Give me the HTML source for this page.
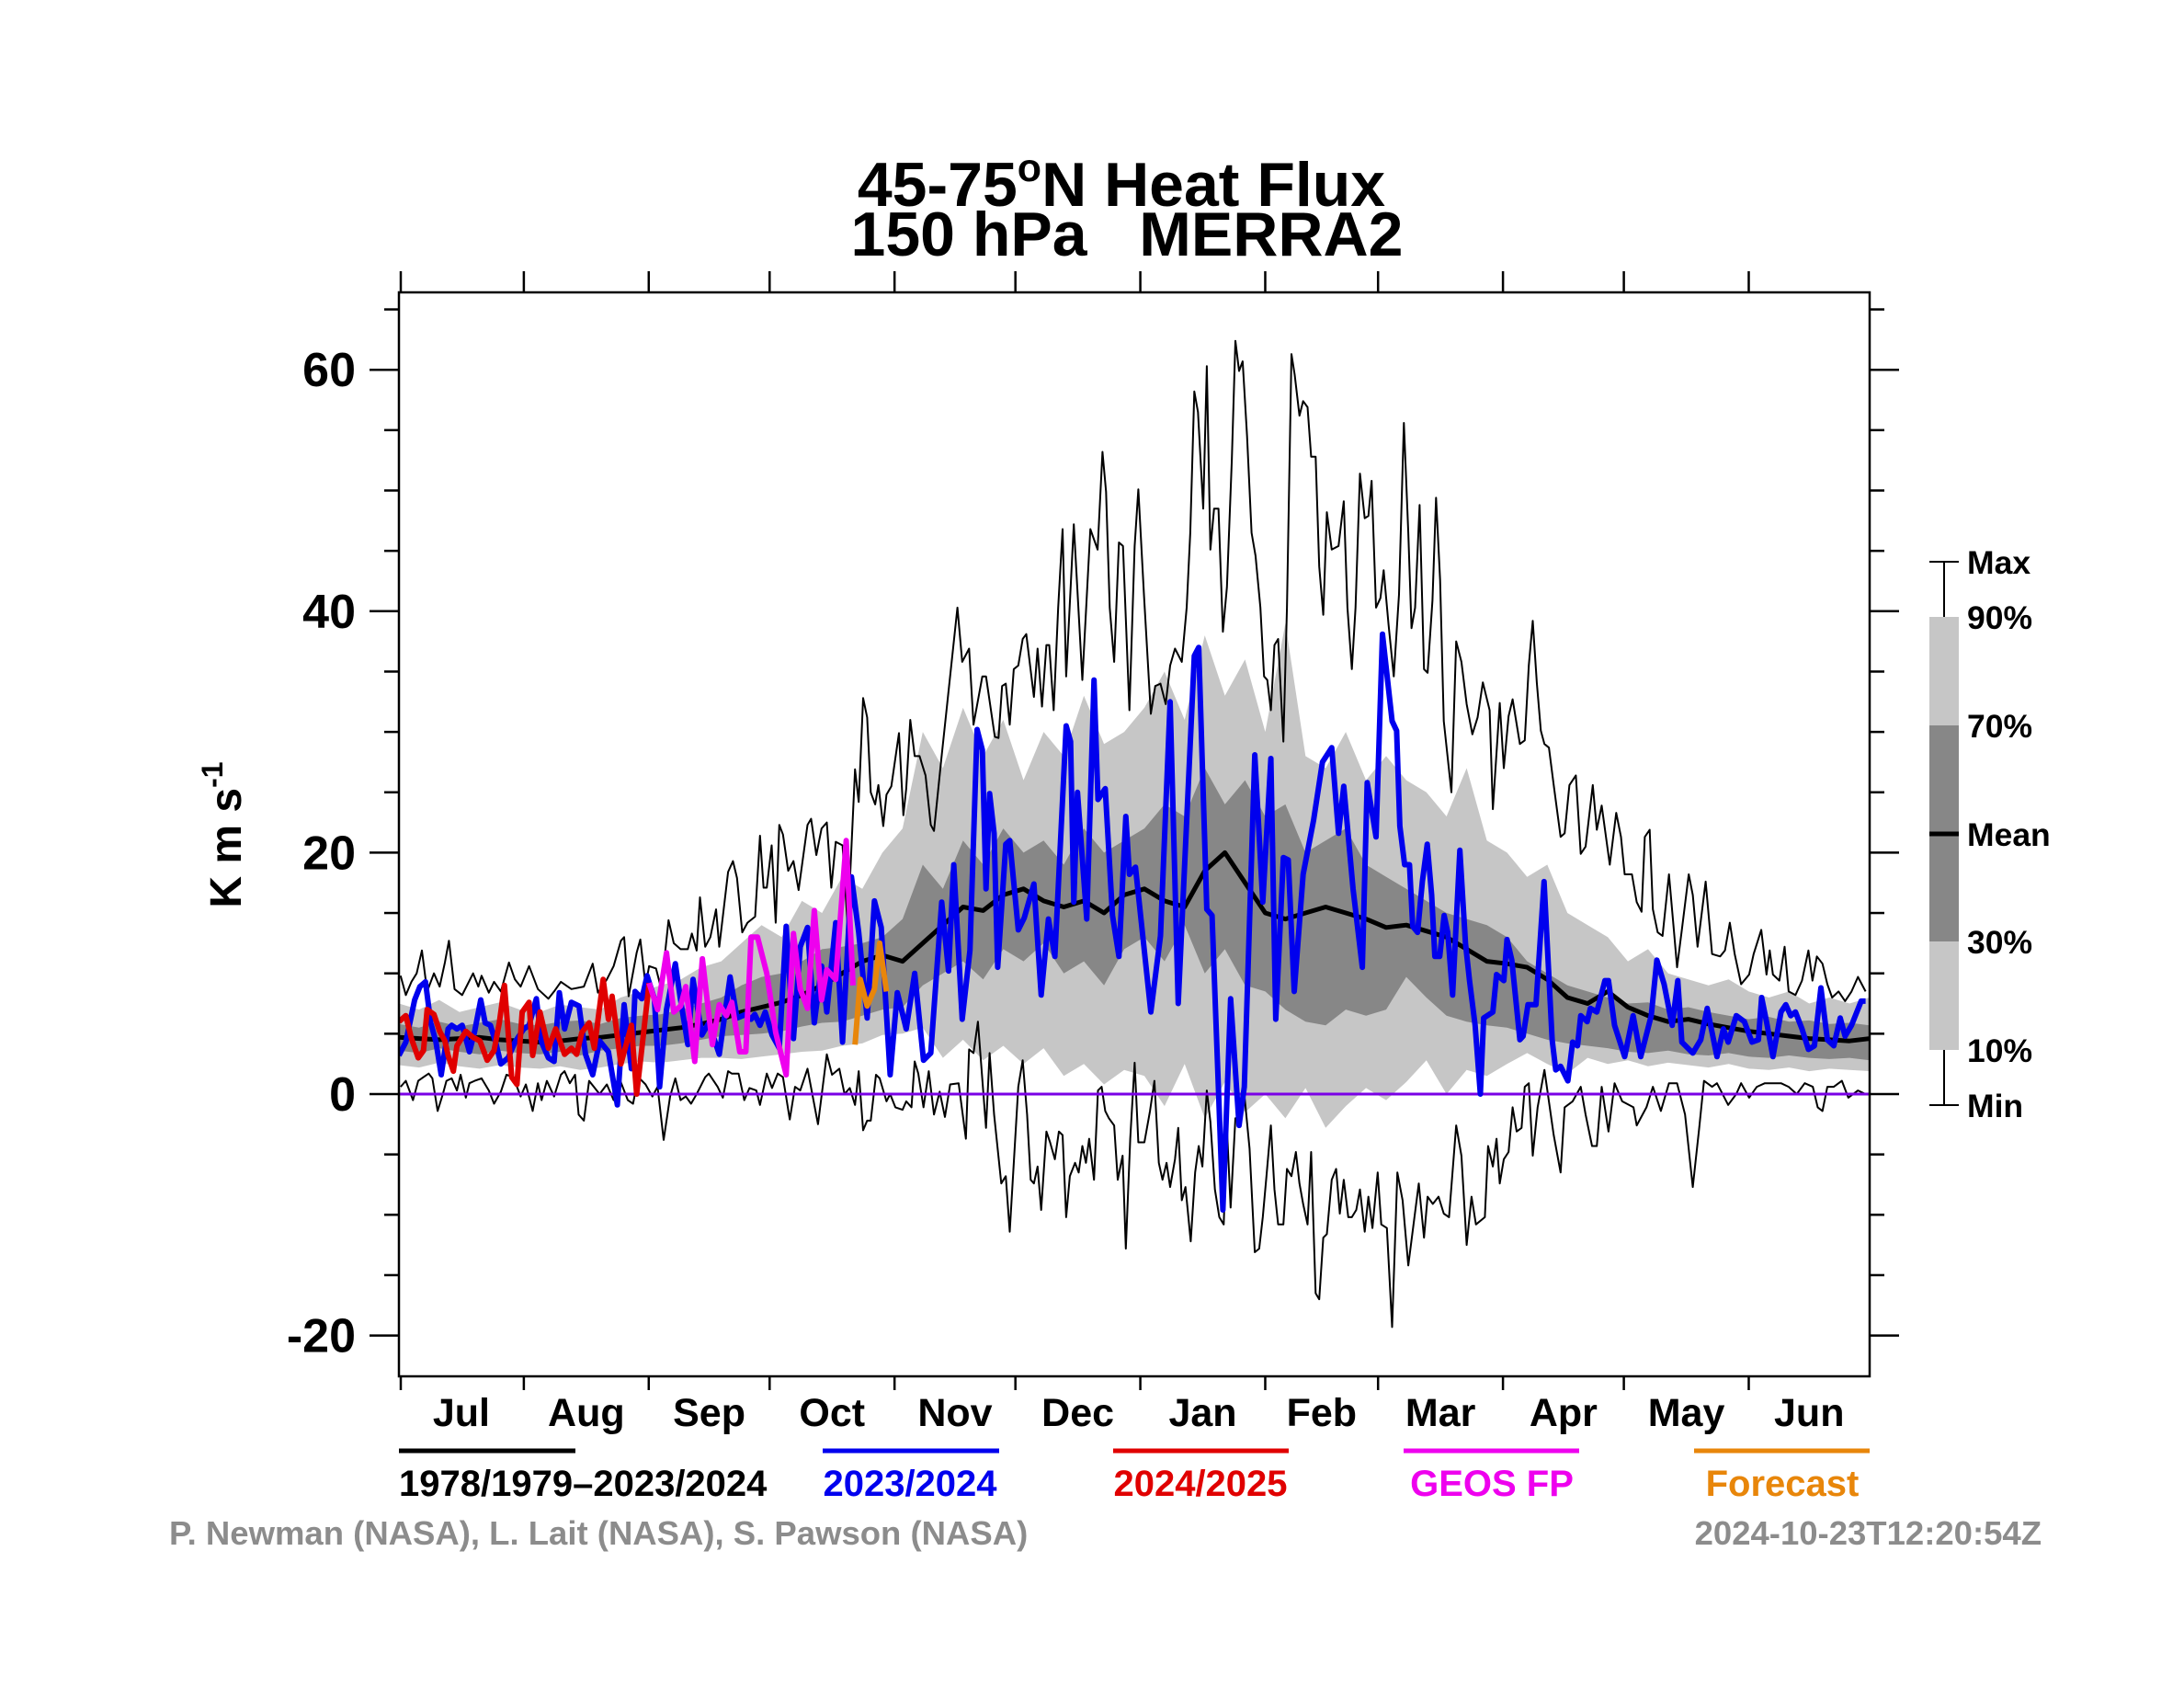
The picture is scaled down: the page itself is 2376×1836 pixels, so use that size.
<!DOCTYPE html>
<html><head><meta charset="utf-8"><title>45-75N Heat Flux 150 hPa MERRA2</title>
<style>
html,body{margin:0;padding:0;background:#fff;}
svg{display:block;font-family:"Liberation Sans",Arial,sans-serif;font-weight:bold;}
</style></head>
<body>
<svg id="chart" xmlns="http://www.w3.org/2000/svg" width="2376" height="1836" viewBox="0 0 2376 1836">
<rect x="0" y="0" width="2376" height="1836" fill="#fff"/>
<text x="1220" y="224" font-size="68" text-anchor="middle">45-75<tspan font-size="43" dy="-27">o</tspan><tspan dy="27">N Heat Flux</tspan></text>
<text x="1226" y="278" font-size="68" text-anchor="middle" xml:space="preserve">150 hPa   MERRA2</text>
<g id="plot"></g>
<g id="axes"></g>
<text transform="translate(262,908) rotate(-90)" font-size="48" text-anchor="middle">K m s<tspan font-size="32" dy="-20">-1</tspan></text>

<g>
<line x1="2115" y1="611" x2="2115" y2="1202" stroke="#000" stroke-width="2"/>
<line x1="2099" y1="611" x2="2131" y2="611" stroke="#000" stroke-width="2"/>
<line x1="2099" y1="1202" x2="2131" y2="1202" stroke="#000" stroke-width="2"/>
<rect x="2099" y="671" width="32" height="118" fill="#c6c6c6"/>
<rect x="2099" y="789" width="32" height="235" fill="#878787"/>
<rect x="2099" y="1024" width="32" height="118" fill="#c6c6c6"/>
<line x1="2099" y1="907" x2="2131" y2="907" stroke="#000" stroke-width="5"/>
<g font-size="35.5">
<text x="2140" y="624">Max</text>
<text x="2140" y="684">90%</text>
<text x="2140" y="802">70%</text>
<text x="2140" y="920">Mean</text>
<text x="2140" y="1037">30%</text>
<text x="2140" y="1155">10%</text>
<text x="2140" y="1215">Min</text>
</g></g>

<g font-size="40">
<line x1="434" y1="1578" x2="626" y2="1578" stroke="#000" stroke-width="5"/>
<text x="434" y="1627" fill="#000">1978/1979–2023/2024</text>
<line x1="895" y1="1578" x2="1087" y2="1578" stroke="#0000ee" stroke-width="5"/>
<text x="990" y="1627" fill="#0000ee" text-anchor="middle">2023/2024</text>
<line x1="1211" y1="1578" x2="1402" y2="1578" stroke="#e00000" stroke-width="5"/>
<text x="1306" y="1627" fill="#e00000" text-anchor="middle">2024/2025</text>
<line x1="1527" y1="1578" x2="1718" y2="1578" stroke="#ee00ee" stroke-width="5"/>
<text x="1623" y="1627" fill="#ee00ee" text-anchor="middle">GEOS FP</text>
<line x1="1843" y1="1578" x2="2034" y2="1578" stroke="#e8860a" stroke-width="5"/>
<text x="1939" y="1627" fill="#e8860a" text-anchor="middle">Forecast</text>
</g>
<text x="184" y="1680" font-size="36.5" fill="#8c8c8c">P. Newman (NASA), L. Lait (NASA), S. Pawson (NASA)</text>
<text x="2221" y="1680" font-size="36.5" fill="#8c8c8c" text-anchor="end">2024-10-23T12:20:54Z</text>
</svg>
<script>
const monthLabels = ["Jul","Aug","Sep","Oct","Nov","Dec","Jan","Feb","Mar","Apr","May","Jun"];
const monthStartDays = [0,31,62,92,123,153,184,215,243,274,304,335,365];
const yTickLabels = [60,40,20,0,-20];
const yMinorTicks = [65,55,50,45,35,30,25,15,10,5,-5,-10,-15,-25];

const bandDays = [0,5,10,15,20,25,30,35,40,45,50,55,60,65,70,75,80,85,90,95,100,105,110,115,120,125,130,135,140,145,150,155,160,165,170,175,180,185,190,195,200,205,210,215,220,225,230,235,240,245,250,255,260,265,270,275,280,285,290,295,300,305,310,315,320,325,330,335,340,345,350,355,360,365];
const p90Vals = [7.5,7,7.8,6.8,7.2,7.6,7, 6.8,7.4,7.2,7,8,8.5, 9,9.5,10.5,11,12.5,14, 13,16,15,18,17,20, 22,30,27,32,28,31, 26,30,28,33,29,30, 32,35,31,38,33,36, 30,39,28,27,30,26, 28,26,25,23,27,21, 20,18,19,15,14,13, 11,12,10,9.5,9,9.5, 8.5,8,8.5,7.5,8,7.5,8];
const p70Vals = [5.8,5.5,6,5.6,5.9,6.2,5.8, 5.7,6,6.1,5.8,6.3,6.5, 6.6,7,7.5,8,9,9.7, 10,11,12,12.2,12.5,13, 14.5,19,17,21,19,22, 20,21,19,22,20,21, 22,24,23,27,24,26, 23,24,20,21,22,19, 18,17,16,15,14.5,14, 13,11,10,9,8.5,8, 7.5,7.6,7,7.2,6.8,6.5, 6.2,6.4,6,6.1,5.8,5.9,5.7];
const p30Vals = [3.6,3.4,3.8,3.5,3.3,3.6,3.4, 3.3,3.5,3.2,3.6,3.8,4, 4,4.2,4.5,4.8,4.9,5, 5.2,5.6,5.9,6,6.5,7, 7.2,9,10,11,9.5,12, 11,12.5,10,11,9,12, 13,11,14,10,12,9, 8.5,7,6,5.7,7,6.5, 7,9.7,8,6.5,6,5.7, 5.5,5,4.5,4.2,4,3.8, 3.5,3.4,3.6,3.3,3.2,3.4, 3.1,3,3.2,3,2.9,3,2.8];
const p10Vals = [2.4,2.2,2.6,2.3,2.1,2.4,2.2, 2.1,2.3,2,2.2,2.5,2.7, 2.6,2.8,3,3,2.9,3.1, 3.3,3.5,3.6,4,4.2,4.9, 5,5.5,3,4.5,2.8,4, 2.5,3.8,1.5,2.5,0.8,2, 1.5,-1,2.5,-2,1,-1.5, 0,-2,0.5,-2.8,-1,0.5, -0.5,1,2.8,0,2,1.5, 2.5,3.4,2.5,1.7,3,2.5, 2.8,2.3,2.6,2.4,2.2,2.5, 2.1,2,2.2,1.9,2.1,2,1.9];
const meanVals = [4.7,4.6,4.5,4.6,4.7,4.5,4.4, 4.3,4.4,4.6,4.7,4.9,5.1, 5.3,5.5,5.8,6.2,6.8,7.2, 7.6,8.2,9,10,11,11.5, 11,12.5,14,15.5,15.2,16.5, 17,16,15.5,16,15,16.5, 17,16,15.5,18.5,20,17.5, 15,14.5,15,15.5,15,14.5, 13.8,14,13.5,13,12,11, 10.8,10.5,9.5,8,7.5,8.5, 7.2,6.5,6,6.2,5.8,5.5, 5.2,5,4.8,4.6,4.5,4.4,4.6];

const maxSeries = [[0.4,9.8],[1.7,8.2],[3.1,9.3],[4.4,10],[5.7,11.9],[7,8.5],[8.7,10],[10.1,8.9],[11.4,10.9],[12.4,12.7],[13.8,8.7],[15.7,8.2],[18.4,10],[19.7,8.9],[20.5,9.8],[22.3,8.4],[23.6,9.3],[25.3,8.5],[27.3,10.9],[28.8,9.5],[30.2,8.9],[32.3,10.6],[34.5,8.7],[37.1,7.9],[38.5,8.5],[40.2,9.3],[42.8,8.7],[45.9,8.9],[48.1,10.8],[49.4,8.4],[51.6,9.5],[53.3,10.6],[55.1,12.7],[55.9,13],[57,8.1],[59,11.7],[59.9,12.8],[61.2,9],[62.1,10.6],[63.8,10.4],[65.1,8.7],[66.9,14.4],[68.2,12.5],[69.9,12],[71.7,12],[72.7,13.3],[73.9,11.9],[74.7,16.3],[76,12.2],[77.3,13],[78.7,15.3],[79.5,12.2],[81.7,18.4],[82.9,19.3],[83.9,17.9],[85.2,13.4],[86.5,14.2],[88.4,14.7],[89.6,21.4],[90.5,17.1],[91.3,17.1],[92.5,20.6],[93.5,14.2],[94.4,22.3],[95.3,21.5],[96.6,18.5],[97.9,19.3],[99.2,16.9],[101.4,22.3],[102.3,22.8],[103.6,19.8],[104.9,22],[106.2,22.5],[107.3,17.1],[108.4,20.9],[110.1,20.6],[111.4,13.8],[113.2,26.9],[114.1,24.2],[115.2,32.8],[116.2,31.2],[117.1,25],[118.2,24],[119,25.6],[120.2,22.2],[121,24.8],[122.2,25.5],[124.1,29.9],[125.2,23.1],[125.9,25.3],[126.9,31],[128,28],[129.2,28],[130.7,26.4],[132,22.3],[132.8,21.8],[134.6,27.7],[138.6,40.3],[139.8,35.8],[141.5,36.9],[142.6,30.6],[144.8,34.6],[145.7,34.6],[147.9,29.6],[148.8,29.5],[149.7,33.8],[150.6,34],[151.6,30.6],[152.6,35.2],[153.7,35.5],[154.8,37.7],[155.7,38.1],[157.6,32.9],[158.5,36.9],[159.6,32.1],[160.7,37.2],[161.4,37.2],[162.5,31.8],[163.6,40.3],[164.7,46.8],[165.6,34.6],[167.5,47.2],[169.6,34.3],[171.6,46.8],[173.4,45.1],[174.6,53.2],[175.5,49.9],[176.4,40.3],[177.5,35.8],[178.7,45.7],[179.7,45.4],[181.3,31.8],[182.6,45.4],[183.5,50.1],[184.9,41.4],[186.6,31.5],[187.7,33.8],[189,34],[190.3,32.3],[191.4,35.5],[192.6,36.9],[194.3,35.8],[195.5,40.3],[196.4,46.5],[197.4,58.2],[198.3,56.5],[199.6,48.5],[200.5,60.3],[201.4,45.1],[202.3,48.5],[203.4,48.5],[204.5,38.3],[205.5,42],[206.7,52.5],[207.6,62.4],[208.5,59.9],[209.4,60.7],[210.5,54.5],[211.6,46.5],[212.6,44.6],[213.8,40.3],[214.7,34.6],[215.5,34.3],[216.4,31.8],[217.3,37.2],[218.2,37.7],[219.5,29.2],[220.4,40.3],[221.5,61.3],[222.3,59.6],[223.5,56.2],[224.4,57.4],[225.5,56.9],[226.4,52.8],[227.5,52.8],[228.4,43.7],[229.4,39.7],[230.3,48.2],[231.5,45.1],[233.2,45.4],[234.5,49.1],[235.4,40.3],[236.5,35.2],[237.4,40.3],[238.5,51.4],[239.7,47.7],[240.6,47.9],[241.4,50.8],[242.5,40.3],[243.6,41.1],[244.4,43.4],[245.6,38.9],[246.9,34.6],[248.2,41.4],[249.4,55.6],[250.5,46.5],[251.3,38.6],[252.2,40.3],[253.3,48.8],[254.4,35.2],[255.3,34.9],[256.5,40.9],[257.4,49.4],[258.4,42.6],[259.3,30.9],[261.2,25],[262.4,37.5],[263.7,35.8],[265,32.3],[266.4,29.8],[267.7,31.2],[269,34.1],[270.7,31.8],[271.5,23.6],[273.2,32.4],[274.2,27],[275.4,31.3],[276.4,32.7],[278.2,29],[279.4,29.3],[280.4,35.5],[281.4,39.2],[282.4,34.1],[283.4,30.1],[284.3,29],[285.4,28.7],[286.6,25.6],[288.3,21.3],[289.3,21.6],[290.5,25.6],[292.1,26.4],[293.3,19.9],[294.5,20.5],[296.3,25.6],[297.3,21.9],[298.5,23.9],[300.5,19],[302.1,23.3],[303.3,21.3],[304.2,18.2],[306,18.2],[307.2,15.9],[308.4,15.1],[309.2,21.3],[310.4,21.9],[311.2,15.3],[312.4,13.4],[313.6,13.1],[315.2,18.2],[316.4,13.6],[317.2,10.5],[318.4,13.6],[320.1,18.2],[321.1,16.5],[322.3,12.2],[324.3,17.6],[325.9,11.6],[327.9,11.4],[329.1,11.9],[330.3,14.2],[331.5,11.6],[333.1,9.1],[335.1,9.9],[336.2,11.6],[338.1,13.6],[339.4,9.9],[340.2,11.9],[341,9.9],[342.6,9.4],[343.9,12.2],[344.9,8.5],[346.6,8.2],[348.2,9.4],[349.8,11.9],[350.8,9.4],[351.9,11.4],[353.3,10.8],[354.5,9.1],[355.7,8],[357.3,8.5],[358.9,7.7],[360.5,8.5],[362.1,9.7],[364,8.5]];

const minSeries = [[0.4,0.6],[1.7,1.1],[3.5,-0.5],[4.8,1.1],[6.1,1.4],[7.4,1.7],[8.3,1.3],[9.6,-1.4],[10.9,0],[11.8,1.1],[13.1,1.3],[14.4,0.3],[15.3,1.6],[16.6,-0.3],[17.5,0.9],[18.8,1.1],[20.5,1.3],[22.3,0.3],[23.6,-0.8],[25.3,0.2],[26.7,1.6],[28.4,1.4],[30.2,-0.2],[31.5,0.8],[33.2,-1.4],[34.5,0.9],[35.4,-0.5],[36.7,1.1],[38.5,-0.2],[40.2,1.6],[41.1,1.9],[42.4,0.9],[43.7,1.6],[44.6,-1.7],[45.9,-2.2],[47.2,1.1],[49.8,0],[51.6,0.8],[53.3,-0.5],[54.6,1.4],[56.8,-0.5],[58.1,-0.8],[59.4,1.4],[61.2,0.8],[62.9,-0.2],[64.2,0.6],[65.7,-3.8],[67.3,-0.2],[68.6,1.3],[69.9,-0.5],[71.2,-0.2],[72.5,-0.8],[73.9,0],[76,1.4],[76.9,1.7],[79.1,0.6],[80.4,-0.3],[81.7,1.9],[82.6,1.7],[84.3,1.7],[85.7,-0.5],[87,0.5],[88.7,0.3],[89.6,-0.9],[91.3,1.7],[92.6,0.5],[94,1.7],[95.3,1.4],[97,-2.1],[98.3,0.6],[99.6,0.3],[101.4,2.1],[102.7,-0.2],[104,-2.5],[106.2,3.3],[107.5,1.6],[109.3,2.1],[110.6,0],[111.9,0.5],[113.2,-0.9],[114.1,1.9],[115.2,-3],[116.2,-2.2],[117.1,-2.2],[118.4,1.6],[119.3,1.3],[121,-0.6],[121.9,0],[123.2,-1.1],[125,-1.3],[125.9,-0.6],[127.2,-1.1],[128,2.7],[128.9,1.7],[130.2,-1.1],[131.5,1.9],[132.8,-1.7],[134.2,0.2],[135.5,-1.9],[136.8,0.8],[138.9,0.9],[140.7,-3.7],[141.5,3.7],[142.6,3.4],[143.7,6],[145.7,-2.8],[146.6,3.4],[147.7,-1.7],[149.5,-7.4],[150.6,-6.8],[151.6,-11.4],[153.7,0.6],[154.8,2.8],[155.9,-1.7],[156.8,-7.1],[157.6,-7.4],[158.5,-6],[159.4,-9.6],[160.7,-3.1],[161.6,-4],[162.8,-5.4],[163.8,-3.1],[164.7,-3.4],[165.6,-10.2],[166.5,-6.8],[167.8,-5.7],[168.7,-6.5],[169.6,-4.3],[170.5,-5.7],[171.3,-3.7],[172.5,-7.1],[173.5,0.3],[174.4,0.6],[175.3,-1.4],[176.2,-2],[177.5,-2.6],[178.4,-7.1],[179.6,-5.1],[180.4,-12.8],[181.5,-3.7],[182.6,2.6],[183.5,-4],[185,-4],[186.4,-1.4],[187.5,1.1],[188.6,-5.7],[189.5,-7.1],[190.5,-5.7],[191.4,-7.7],[192.6,-5.4],[193.4,-2.8],[194.3,-8.8],[195.2,-7.7],[196.5,-12.2],[197.6,-6.5],[198.5,-4.3],[199.4,-6],[200.5,0.3],[201.4,-2.3],[202.5,-7.9],[203.6,-10.2],[204.7,-10.8],[205.5,-2.8],[206.4,-9.4],[207.6,-2],[208.7,-2],[209.8,0],[211.1,-4.5],[212.4,-13.1],[213.5,-12.8],[214.4,-10.2],[215.3,-6.8],[216.4,-2.6],[217.3,-7.9],[218.2,-10.8],[219.5,-10.8],[220.4,-6.2],[221.5,-6.8],[222.6,-4.8],[223.5,-7.4],[224.4,-9.1],[225.5,-10.8],[226.4,-4.8],[227.5,-16.5],[228.4,-17],[229.4,-11.9],[230.3,-11.6],[231.5,-7.1],[232.6,-6.2],[233.5,-9.9],[234.5,-7.1],[235.6,-10.2],[236.5,-10.2],[237.6,-9.6],[238.5,-7.9],[239.7,-11.4],[240.6,-8.5],[241.6,-11.1],[242.9,-6.5],[243.8,-10.8],[245.2,-11.1],[246.5,-19.3],[247.8,-6.5],[249.1,-8.8],[250.5,-14.2],[251.8,-10.8],[253.1,-7.4],[254.4,-11.9],[255.3,-8.5],[256.6,-9.1],[258,-8.5],[259.3,-9.9],[260.6,-10.2],[262.4,-2.6],[263.7,-5.1],[265,-12.5],[266.2,-8.5],[267.3,-10.8],[269.5,-10.2],[270.3,-4.3],[271.5,-6],[272.4,-3.7],[273.2,-7.4],[274.2,-5.4],[275.4,-4.8],[276.4,-1.1],[277.4,-3.1],[278.6,-2.8],[279.4,0.6],[280.4,0.9],[281.4,-5.1],[282.6,-1.1],[284.3,2],[286.6,-3.4],[288.3,-6.5],[289.3,-1.1],[291.3,-0.6],[293.3,0.6],[294.5,-1.7],[296.1,-4.3],[297.3,-4.3],[298.5,0.6],[300.2,-3.1],[301.7,0.9],[303.6,-0.6],[306.4,-1.1],[307.2,-2.6],[309.6,-1.1],[311.2,0.6],[313.2,-1.4],[315.2,0.9],[317.2,0.9],[319.2,-1.7],[321.1,-7.7],[322.7,-2.8],[323.9,1.1],[325.9,0.6],[327.1,0.9],[329.9,-0.9],[331.9,0],[333.1,0.9],[335.1,-0.3],[337,0.6],[339,0.9],[341,0.9],[343,0.9],[344.9,0.6],[346.9,0],[348.9,0.9],[350.9,0.6],[352.1,-1.1],[353.3,-1.4],[354.5,0.6],[356.1,0.6],[358.1,1.1],[359.7,-0.3],[362.1,0.3],[364,0]];

const blueSeries = [[0,3.2],[1.7,4.3],[3.9,7.8],[5.2,8.9],[6.6,9.3],[7.9,5.9],[9.2,4.3],[10.5,1.6],[12.2,5.4],[13.1,5.7],[14.4,5.4],[15.7,5.7],[17.5,3.5],[18.8,5.2],[20.3,7.8],[21.4,5.9],[22.7,5.7],[24,4.3],[25.3,2.5],[27.1,3],[28.8,4.3],[31,5.4],[32.3,5.7],[34.1,7.9],[35.4,4.3],[37.1,3],[38.5,2.7],[39.8,8.4],[41.1,5.4],[42.8,7.6],[44.7,7.3],[46.3,3.3],[48.1,1.6],[49.8,4.4],[52,3.5],[54.2,-0.9],[55.9,7.4],[57.7,2.1],[58.6,8.5],[60.3,7.9],[61.6,9.8],[63.4,7.9],[64.7,0.6],[66.4,7],[68.6,10.8],[69.9,7.8],[71.7,4.1],[73,9.5],[75.2,4.9],[76.9,5.9],[79.5,3.3],[82.2,9.7],[83.9,6.3],[86.1,6.6],[87.4,6.2],[88.3,6.6],[89.6,5.7],[90.9,6.8],[92.6,4.9],[94.4,3.8],[96.1,13.9],[97.9,4.6],[99.6,12.2],[101.4,13.8],[103.1,5.9],[104.9,10.6],[106.2,6.8],[108.4,14.2],[110.1,4.3],[112.3,18],[114.1,13.4],[116.2,6.3],[118,16],[119.7,13.8],[121.9,1.6],[123.7,8.4],[125.9,5.4],[128,10],[130.2,2.8],[132,3.4],[134.7,15.9],[136.4,10.2],[137.7,19],[139.8,6.2],[141.7,11.9],[143.5,30.2],[144.8,28.5],[145.7,17],[146.6,24.9],[147.7,21.6],[148.6,10.5],[150.6,20.7],[151.6,21],[153.7,13.6],[155.2,14.6],[157.6,17.4],[159.4,8.2],[161.2,14.5],[162.8,11.4],[165.6,30.5],[166.7,29.2],[167.5,15.9],[168.4,25],[170.7,14.5],[172.5,34.3],[173.5,24.4],[175.3,25.3],[177.1,14.8],[178.7,11.4],[180.4,23],[181.3,18.2],[182.8,18.8],[186.6,6.8],[189,13.1],[191.4,32.5],[193.4,7.5],[197.4,36.3],[198.5,37],[200.5,15.3],[201.8,14.8],[204.5,-9.6],[206.4,7.9],[208.5,-2.6],[209.8,0.6],[212.4,28.1],[214.4,15.9],[216.4,27.8],[217.6,6.2],[219.5,19.6],[220.7,19.4],[222.2,8.5],[224.4,18.2],[227,22.7],[229.2,27.5],[231.5,28.7],[233.2,21.6],[234.5,25.5],[236.8,17],[239.1,10.5],[240.3,25.8],[242.5,21.3],[244.1,38.1],[246.5,30.9],[247.6,30.1],[248.4,22.2],[249.6,19],[250.8,19],[251.6,13.9],[252.8,13.4],[254,17.6],[255.2,20.7],[256.3,16.5],[257.1,11.4],[258.3,11.4],[259.4,14.8],[260.3,13.4],[261.5,8.2],[263.3,20.2],[264.7,12.5],[265.7,9.4],[267.1,5.7],[268.4,0],[269.2,6.3],[271.5,6.8],[272.4,9.9],[274.2,9.4],[275,12.8],[276.2,11.1],[278.2,4.5],[279,4.8],[280.2,7.4],[282.2,7.4],[284.2,17.6],[286.2,4.5],[287.1,2],[288.3,2.3],[290.1,1.1],[291.3,4.3],[292.5,4],[293.3,6.5],[294.9,6],[295.7,7.1],[297.3,6.8],[299.3,9.4],[300.2,9.4],[301.7,5.7],[304.2,3.1],[306.3,6.5],[308.2,3.1],[310.8,6.5],[312.2,11.1],[314,9.1],[316,5.7],[317.4,9.4],[318.4,4.3],[321.1,3.4],[323.1,4.5],[324.7,7.1],[327.1,3.1],[328.7,5.4],[329.9,4.3],[331.9,6.5],[333.9,6],[335.8,4.3],[337.4,4.5],[338.2,8],[339.4,6],[341,3.1],[343,6.8],[344.2,7.4],[345.4,6.5],[346.6,6.8],[348.2,5.4],[349.8,3.7],[351.3,4],[352.9,8.8],[354.5,4.5],[356.1,4],[357.7,6.3],[358.9,4.8],[360.5,5.7],[362.9,7.7],[364,7.7]];

const redSeries = [[0,6],[1.7,6.5],[3.1,4.6],[4.8,3],[6.1,3.6],[7,7],[8.7,6.6],[10.1,5.2],[11.4,4.4],[12.2,3.2],[13.5,1.9],[14.4,4],[16.6,5.2],[18.4,4.7],[20.1,4.4],[21.9,2.8],[23.6,3.6],[24.9,5.9],[26.2,9],[28,1.4],[29.3,0.8],[30.6,6.8],[32.3,7.6],[33.2,3.2],[35,6.8],[37.1,3.8],[38.9,5.4],[41.1,3.3],[42.8,3.8],[44.1,3.3],[45.4,5.1],[47.2,5.9],[48.5,3.8],[50.7,9.5],[52,6.2],[52.9,8.1],[55.1,2.5],[57.7,5.7],[59,0],[60.3,3.8],[62.1,9.2]];

const geosSeries = [[62.1,9.2],[64.2,7],[66.4,11.7],[68.2,6.8],[69.9,7.3],[71.2,8.9],[73.4,2.7],[75.3,11.2],[77.8,4.1],[79.5,7.4],[81.3,6.5],[82.6,7.6],[84.6,3.5],[86.1,3.5],[87.4,13],[89,13],[91.3,10],[93.5,5.1],[96.1,1.6],[97.9,13.3],[99.6,8.7],[101.4,7.1],[103.1,15.2],[104.9,7.8],[106.2,10.3],[108.4,9.5],[111,21],[112.7,9]];

const forecastSeries = [[113.2,4.1],[114.5,9.5],[116.2,7.3],[118,8.7],[119.3,12.5],[121,8.5]];

const NS = "http://www.w3.org/2000/svg";
const X0 = 434, X1 = 2034, Y0 = 318, Y1 = 1497;
function xScale(d){ return X0 + d / 365 * (X1 - X0); }
function yScale(v){ return 1190 - v * 13.13; }
function mk(tag, attrs, parent){
  const el = document.createElementNS(NS, tag);
  for (const k in attrs) el.setAttribute(k, attrs[k]);
  parent.appendChild(el);
  return el;
}
function linePath(pts){ return pts.map((p,i)=>(i?"L":"M")+xScale(p[0]).toFixed(1)+","+yScale(p[1]).toFixed(1)).join(""); }
function bandPath(days, lo, hi){
  let s = "";
  days.forEach((d,i)=>{ s += (i?"L":"M")+xScale(d).toFixed(1)+","+yScale(hi[i]).toFixed(1); });
  for (let i = days.length-1; i >= 0; i--) s += "L"+xScale(days[i]).toFixed(1)+","+yScale(lo[i]).toFixed(1);
  return s+"Z";
}
const plot = document.getElementById("plot");
const axes = document.getElementById("axes");

const clip = mk("clipPath", {id:"clipPlot"}, plot);
mk("rect", {x:X0, y:Y0, width:X1-X0, height:Y1-Y0}, clip);
const g = mk("g", {"clip-path":"url(#clipPlot)"}, plot);



const lightBand = mk("path", {d: bandPath(bandDays, p10Vals, p90Vals), fill:"#c6c6c6"}, g);


const darkBand = mk("path", {d: bandPath(bandDays, p30Vals, p70Vals), fill:"#878787"}, g);



const maxLine = mk("path", {d: linePath(maxSeries), fill:"none", stroke:"#000", "stroke-width":2, "stroke-linejoin":"round"}, g);


const minLine = mk("path", {d: linePath(minSeries), fill:"none", stroke:"#000", "stroke-width":2, "stroke-linejoin":"round"}, g);



const meanLine = mk("path", {d: linePath(bandDays.map((d,i)=>[d, meanVals[i]])), fill:"none", stroke:"#000", "stroke-width":5, "stroke-linejoin":"round"}, g);



const zeroLine = mk("line", {x1:X0, x2:X1, y1:yScale(0), y2:yScale(0), stroke:"#7a00e6", "stroke-width":3}, g);



const blueLine = mk("path", {d: linePath(blueSeries), fill:"none", stroke:"#0000ee", "stroke-width":6, "stroke-linejoin":"round"}, g);


const redLine = mk("path", {d: linePath(redSeries), fill:"none", stroke:"#e00000", "stroke-width":6, "stroke-linejoin":"round"}, g);


const geosLine = mk("path", {d: linePath(geosSeries), fill:"none", stroke:"#ee00ee", "stroke-width":6, "stroke-linejoin":"round"}, g);


const fcLine = mk("path", {d: linePath(forecastSeries), fill:"none", stroke:"#e8860a", "stroke-width":6, "stroke-linejoin":"round"}, g);



const frame = mk("rect", {x:X0, y:Y0, width:X1-X0, height:Y1-Y0, fill:"none", stroke:"#000", "stroke-width":2.5}, axes);



yTickLabels.forEach(v=>{
  const y = yScale(v);
  const t1 = mk("line", {x1:X0-32, x2:X0, y1:y, y2:y, stroke:"#000", "stroke-width":2.5}, axes);
  
  
  const t2 = mk("line", {x1:X1, x2:X1+32, y1:y, y2:y, stroke:"#000", "stroke-width":2.5}, axes);
  
  
  const lbl = mk("text", {x:387, y:y+18, "font-size":52, "text-anchor":"end"}, axes);
  lbl.textContent = String(v);
  
  
});
yMinorTicks.forEach(v=>{
  const y = yScale(v);
  if (y < Y0 || y > Y1) return;
  const t1 = mk("line", {x1:X0-16, x2:X0, y1:y, y2:y, stroke:"#000", "stroke-width":2.5}, axes);
  
  
  const t2 = mk("line", {x1:X1, x2:X1+16, y1:y, y2:y, stroke:"#000", "stroke-width":2.5}, axes);
  
  
});
monthStartDays.forEach((d,i)=>{
  const x = xScale(d);
  if (i < 12) {
    const tt = mk("line", {x1:x+(i===0?2:0), x2:x+(i===0?2:0), y1:Y0-23, y2:Y0, stroke:"#000", "stroke-width":2.5}, axes);
    
    
    const tb = mk("line", {x1:x+(i===0?2:0), x2:x+(i===0?2:0), y1:Y1, y2:Y1+15, stroke:"#000", "stroke-width":2.5}, axes);
    
    
    const mid = xScale((d + monthStartDays[i+1]) / 2);
    const lbl = mk("text", {x:mid, y:1551, "font-size":43, "text-anchor":"middle"}, axes);
    lbl.textContent = monthLabels[i];
    
    
  }
});
</script>
</body></html>
